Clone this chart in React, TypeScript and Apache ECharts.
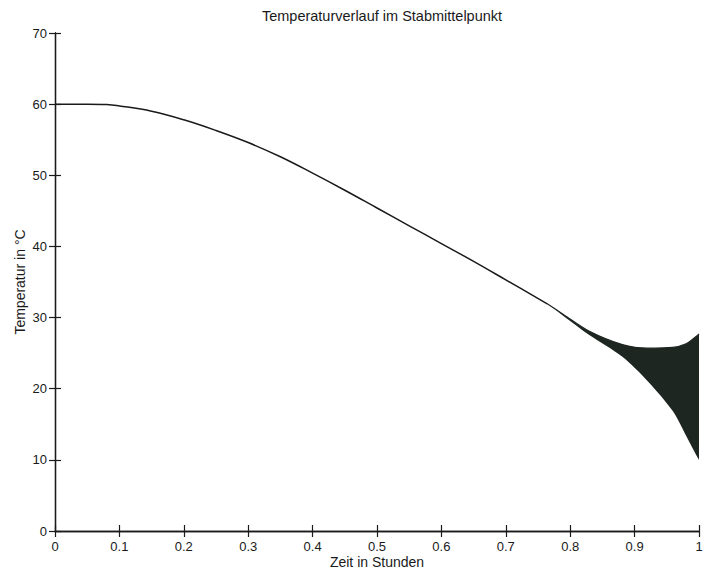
import React, { useEffect, useRef } from "react";
import * as echarts from "echarts";

const titleText = "Temperaturverlauf im Stabmittelpunkt";
const xName = "Zeit in Stunden";
const yName = "Temperatur in °C";

// main cooling curve (hours, °C)
const mainX = [0, 0.05, 0.08, 0.1, 0.15, 0.2, 0.25, 0.3, 0.35, 0.4, 0.45, 0.5, 0.55, 0.6, 0.65, 0.7, 0.765];
const mainY = [60, 60, 59.95, 59.75, 59.0, 57.8, 56.3, 54.6, 52.6, 50.3, 47.9, 45.4, 42.9, 40.4, 37.9, 35.3, 31.9];

// oscillating band at the end (upper / lower envelopes)
const bandX = [0.765, 0.79, 0.829, 0.881, 0.92, 0.959, 0.98, 0.995, 1.0];
const bandUpper = [31.9, 30.4, 28.1, 26.2, 25.7, 25.8, 26.3, 27.3, 27.7];
const bandLower = [31.9, 30.2, 27.6, 24.5, 21.1, 16.9, 13.4, 10.8, 10.0];

const FONT = "'Liberation Sans', Arial, Helvetica, sans-serif";
const INK = "#1a1a1a";
const BAND = "#1e2622";

export default function App() {
  const ref = useRef<HTMLDivElement>(null);
  useEffect(() => {
    if (!ref.current) return;
    const chart = echarts.init(ref.current, null, { renderer: "svg" });
    const axisCommon = {
      z: 10,
      axisLine: { show: true, lineStyle: { color: INK, width: 1.3 } },
      axisTick: { show: true, inside: true, length: 6, lineStyle: { color: INK, width: 1.2 } },
      splitLine: { show: false },
    };
    // white mask under the lower envelope, starting a little earlier on the main curve
    const maskX = [mainX[mainX.length - 2], ...bandX];
    const maskY = [mainY[mainY.length - 2], ...bandLower];
    chart.setOption({
      animation: false,
      backgroundColor: "#ffffff",
      title: {
        text: titleText,
        left: 377,
        textAlign: "center",
        top: 3,
        textStyle: { fontFamily: FONT, fontSize: 14.5, fontWeight: "normal", color: INK },
      },
      grid: { left: 55, right: 15, top: 33, bottom: 41, outerBoundsMode: "none", containLabel: false },
      xAxis: [
        {
          type: "value",
          min: 0,
          max: 1,
          interval: 0.1,
          position: "bottom",
          name: xName,
          nameLocation: "middle",
          nameGap: 24,
          nameMoveOverlap: false,
          nameTextStyle: { fontFamily: FONT, fontSize: 14, color: INK },
          axisLabel: { fontFamily: FONT, fontSize: 13, color: INK, margin: 9 },
          ...axisCommon,
        },
        {
          type: "value",
          min: 0,
          max: 1,
          interval: 0.1,
          position: "top",
          axisLabel: { show: false },
          ...axisCommon,
        },
      ],
      yAxis: [
        {
          type: "value",
          min: 0,
          max: 70,
          interval: 10,
          position: "left",
          name: yName,
          nameLocation: "middle",
          nameGap: 28,
          nameMoveOverlap: false,
          nameTextStyle: { fontFamily: FONT, fontSize: 14, color: INK },
          axisLabel: { fontFamily: FONT, fontSize: 13, color: INK, margin: 8 },
          ...axisCommon,
        },
        {
          type: "value",
          min: 0,
          max: 70,
          interval: 10,
          position: "right",
          axisLabel: { show: false },
          ...axisCommon,
        },
      ],
      series: [
        {
          type: "line",
          data: bandX.map((x, i) => [x, bandUpper[i]]),
          smooth: 0.3,
          symbol: "none",
          lineStyle: { color: BAND, width: 1.2 },
          areaStyle: { color: BAND, opacity: 1, origin: "start" },
        },
        {
          type: "line",
          data: maskX.map((x, i) => [x, maskY[i]]),
          smooth: 0.3,
          symbol: "none",
          lineStyle: { color: BAND, width: 0, opacity: 0 },
          areaStyle: { color: "#ffffff", opacity: 1, origin: "start" },
        },
        {
          type: "line",
          data: mainX.map((x, i) => [x, mainY[i]]),
          smooth: 0.4,
          symbol: "none",
          lineStyle: { color: INK, width: 1.5 },
        },
      ],
    });
    return () => chart.dispose();
  }, []);
  return (
    <div
      ref={ref}
      style={{ width: 714, height: 572, position: "fixed", left: 0, top: 0 }}
    />
  );
}
